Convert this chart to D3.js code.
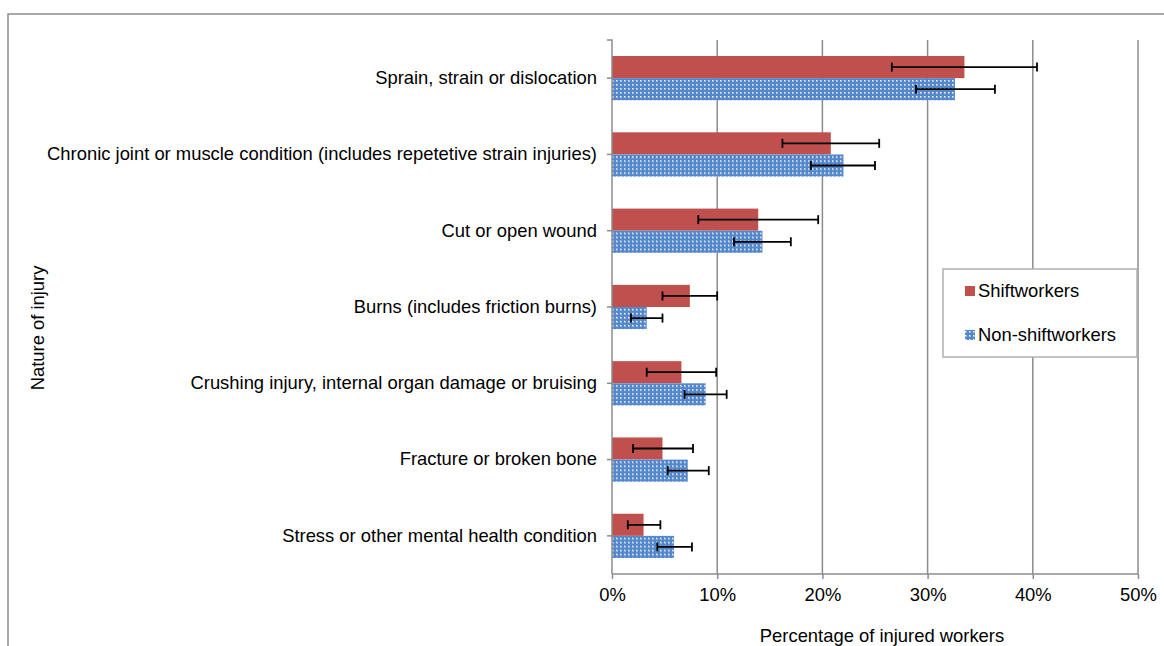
<!DOCTYPE html>
<html>
<head>
<meta charset="utf-8">
<script src="https://cdn.jsdelivr.net/npm/d3@7"></script>
<style>
  body { margin: 0; background: #fff; }
  text { font-family: "Liberation Sans", Arial, sans-serif; fill: #000; }
</style>
</head>
<body>
<script>
const categories = [
  "Sprain, strain or dislocation",
  "Chronic joint or muscle condition (includes repetetive strain injuries)",
  "Cut or open wound",
  "Burns (includes friction burns)",
  "Crushing injury, internal organ damage or bruising",
  "Fracture or broken bone",
  "Stress or other mental health condition"
];
const seriesNames = ["Shiftworkers", "Non-shiftworkers"];
const shiftValues = [33.5, 20.8, 13.9, 7.4, 6.6, 4.8, 3.0];
const shiftLow    = [26.6, 16.2, 8.2, 4.8, 3.3, 2.0, 1.5];
const shiftHigh   = [40.4, 25.4, 19.6, 10.0, 9.9, 7.7, 4.6];
const nonValues   = [32.6, 22.0, 14.3, 3.3, 8.9, 7.2, 5.9];
const nonLow      = [28.9, 18.9, 11.6, 1.8, 6.9, 5.3, 4.3];
const nonHigh     = [36.4, 25.0, 17.0, 4.8, 10.9, 9.2, 7.6];
const xTicks = [0, 10, 20, 30, 40, 50];

const W = 1164, H = 646;
const margin = {left: 612, right: 26, top: 40, bottom: 72};
const fs = "18.4px";

const svg = d3.select("body").append("svg")
  .attr("width", W).attr("height", H);

const defs = svg.append("defs");
const pat = defs.append("pattern")
  .attr("id", "dots")
  .attr("patternUnits", "userSpaceOnUse")
  .attr("width", 4).attr("height", 4);
pat.append("rect").attr("width", 4).attr("height", 4).attr("fill", "#5587cb");
pat.append("rect").attr("x", 0).attr("y", 0).attr("width", 2).attr("height", 2).attr("fill", "#9ebbe4");
pat.append("rect").attr("x", 0).attr("y", 0).attr("width", 1).attr("height", 1).attr("fill", "#ffffff");

// outer frame (top and left visible)
svg.append("rect")
  .attr("x", 8).attr("y", 14)
  .attr("width", W + 20).attr("height", H + 20)
  .attr("fill", "none").attr("stroke", "#8c8c8c").attr("stroke-width", 1.5);

const x = d3.scaleLinear().domain([0, 50]).range([margin.left, W - margin.right]);
const y = d3.scaleBand().domain(categories).range([margin.top, H - margin.bottom]).paddingInner(0.42).paddingOuter(0.21);
const sub = d3.scaleBand().domain(seriesNames).range([0, y.bandwidth()]);

// gridlines
svg.append("g").selectAll("line")
  .data(xTicks.filter(d => d > 0))
  .join("line")
  .attr("x1", d => x(d)).attr("x2", d => x(d))
  .attr("y1", margin.top).attr("y2", H - margin.bottom)
  .attr("stroke", "#8c8c8c").attr("stroke-width", 1.5);

const rows = categories.map((c, i) => ({
  cat: c,
  vals: [
    {s: seriesNames[0], v: shiftValues[i], lo: shiftLow[i], hi: shiftHigh[i]},
    {s: seriesNames[1], v: nonValues[i], lo: nonLow[i], hi: nonHigh[i]}
  ]
}));

const fills = {"Shiftworkers": "#c0504d", "Non-shiftworkers": "url(#dots)"};

const g = svg.append("g").selectAll("g")
  .data(rows).join("g")
  .attr("transform", d => `translate(0,${y(d.cat)})`);

g.selectAll("rect")
  .data(d => d.vals).join("rect")
  .attr("x", x(0))
  .attr("y", d => sub(d.s))
  .attr("width", d => x(d.v) - x(0))
  .attr("height", sub.bandwidth())
  .attr("fill", d => fills[d.s]);

const eb = g.selectAll("g.err")
  .data(d => d.vals).join("g").attr("class", "err")
  .attr("stroke", "#000").attr("stroke-width", 1.8);
eb.append("line")
  .attr("x1", d => x(d.lo)).attr("x2", d => x(d.hi))
  .attr("y1", d => sub(d.s) + sub.bandwidth() / 2)
  .attr("y2", d => sub(d.s) + sub.bandwidth() / 2);
eb.append("line")
  .attr("x1", d => x(d.lo)).attr("x2", d => x(d.lo))
  .attr("y1", d => sub(d.s) + sub.bandwidth() / 2 - 4.5)
  .attr("y2", d => sub(d.s) + sub.bandwidth() / 2 + 4.5);
eb.append("line")
  .attr("x1", d => x(d.hi)).attr("x2", d => x(d.hi))
  .attr("y1", d => sub(d.s) + sub.bandwidth() / 2 - 4.5)
  .attr("y2", d => sub(d.s) + sub.bandwidth() / 2 + 4.5);

// y axis
const yAxis = svg.append("g")
  .attr("transform", `translate(${x(0)},0)`)
  .call(d3.axisLeft(y).tickSize(5).tickPadding(10));
yAxis.select(".domain").attr("stroke", "#8c8c8c").attr("stroke-width", 1.5)
  .attr("d", `M-5,${margin.top}H0V${H - margin.bottom}`);
yAxis.selectAll(".tick line").attr("stroke", "#8c8c8c").attr("stroke-width", 1.5);
yAxis.selectAll(".tick text").style("font-size", fs).attr("font-family", null);

// x axis
const xAxis = svg.append("g")
  .attr("transform", `translate(0,${H - margin.bottom})`)
  .call(d3.axisBottom(x).tickValues(xTicks).tickFormat(d => d + "%").tickSize(5).tickPadding(9));
xAxis.select(".domain").attr("stroke", "#8c8c8c").attr("stroke-width", 1.5)
  .attr("d", `M${x(0)},0H${x(50)}`);
xAxis.selectAll(".tick line").attr("stroke", "#8c8c8c").attr("stroke-width", 1.5);
xAxis.selectAll(".tick text").style("font-size", fs).attr("font-family", null);

// axis titles
svg.append("text")
  .attr("x", 882).attr("y", 642)
  .attr("text-anchor", "middle").style("font-size", fs)
  .text("Percentage of injured workers");
svg.append("text")
  .attr("transform", "translate(44,328) rotate(-90)")
  .attr("text-anchor", "middle").style("font-size", fs)
  .text("Nature of injury");

// legend
const lg = svg.append("g").attr("transform", "translate(943,269)");
lg.append("rect").attr("width", 194).attr("height", 88)
  .attr("fill", "#fff").attr("stroke", "#b0b0b0").attr("stroke-width", 1.5);
const li = lg.selectAll("g").data(seriesNames).join("g")
  .attr("transform", (d, i) => `translate(22,${22 + i * 44})`);
li.append("rect").attr("x", 0).attr("y", -5).attr("width", 10).attr("height", 10)
  .attr("fill", d => fills[d]);
li.append("text").attr("x", 13).attr("y", 0).attr("dy", "0.35em")
  .style("font-size", fs).text(d => d);
</script>
</body>
</html>
